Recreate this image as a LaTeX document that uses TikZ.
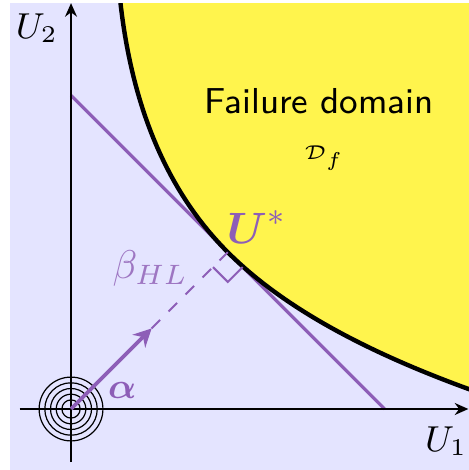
\documentclass[tikz,border=0pt]{standalone}
\usepackage{amsmath}
\usetikzlibrary{arrows.meta}
\definecolor{lsfpurple}{RGB}{141,94,183}
\definecolor{lsfyellow}{RGB}{255,244,77}
\definecolor{lsfbg}{RGB}{228,228,255}

\begin{document}
\begin{tikzpicture}[x=0.5cm,y=0.5cm,font=\small,
    axis/.style={-{Stealth[length=3.4pt,width=3pt]},line width=0.45pt},
    limit/.style={fill=lsfyellow,draw=black,line width=1.1pt},
    lsf/.style={draw=lsfpurple,line width=0.8pt},
    ring/.style={line width=0.3pt},
    lbl/.style={text=lsfpurple,inner sep=0pt}]
  \useasboundingbox (-1.246,-1.07) rectangle (6.98,7.175);
  \fill[lsfbg] (-1.07,-1.07) rectangle (6.98,7.12);
  % points
  \coordinate (o)     at (0,0);
  \coordinate (ustar) at (2.75,2.75);
  \coordinate (atip)  at (1.414,1.414);
  \coordinate (lsfa)  at (0,5.5);
  \coordinate (lsfb)  at (5.5,0);
  \coordinate (xbeg)  at (-0.9,0);
  \coordinate (xend)  at (6.97,0);
  \coordinate (ybeg)  at (0,-0.93);
  \coordinate (yend)  at (0,7.12);
  % limit state approximation
  \draw[lsf] (lsfa) -- (lsfb);
  % failure domain (s along the tangent, n away from it)
  \begin{scope}
    \clip (-1.07,-1.07) rectangle (6.98,7.12);
    \filldraw[limit]
      plot[domain=-5:0,samples=40]
        ({(3.889+0.09*\x*\x+\x)/sqrt(2)},{(3.889+0.09*\x*\x-\x)/sqrt(2)})
      -- plot[domain=0:5.4,samples=40]
        ({(3.889+0.085*\x*\x/(1+0.095*\x)+\x)/sqrt(2)},{(3.889+0.085*\x*\x/(1+0.095*\x)-\x)/sqrt(2)})
      -- (7.9,8.2) -- cycle;
  \end{scope}
  \node[font=\fontsize{9}{11}\selectfont\sffamily] (fdom) at (4.35,5.40) {Failure domain};
  \node[font=\fontsize{5.5}{6}\selectfont] (fdsym) at (4.44,4.40) {$\mathcal{D}_f$};
  % axes
  \draw[axis] (xbeg) -- (xend);
  \draw[axis] (ybeg) -- (yend);
  \node (u1lbl) at (6.58,-0.56) {$U_1$};
  \node (u2lbl) at (-0.6,6.68) {$U_2$};
  \foreach \r in {0.16,0.26,...,0.56}
    \draw[ring] (o) circle (\r);
  % reliability index
  \draw[lsfpurple,line width=0.5pt,dashed] (atip) -- (ustar);
  \draw[lsfpurple,line width=0.5pt] (ustar) ++(-0.26,-0.26) -- ++(0.26,-0.26) -- ++(0.26,0.26);
  \draw[lsfpurple,line width=0.9pt,-{Stealth[length=4.5pt,width=4.5pt]}] (o) -- (atip);
  \node[lbl,font=\fontsize{11}{13}\selectfont,anchor=base west] (ustarlbl) at (2.72,2.91) {$\boldsymbol{U}^{*}$};
  \node[lbl,text=lsfpurple!85,font=\normalsize] (betalbl) at (1.39,2.47) {$\beta_{HL}$};
  \node[lbl] (alphalbl) at (0.9,0.33) {$\boldsymbol{\alpha}$};
\end{tikzpicture}
\end{document}
